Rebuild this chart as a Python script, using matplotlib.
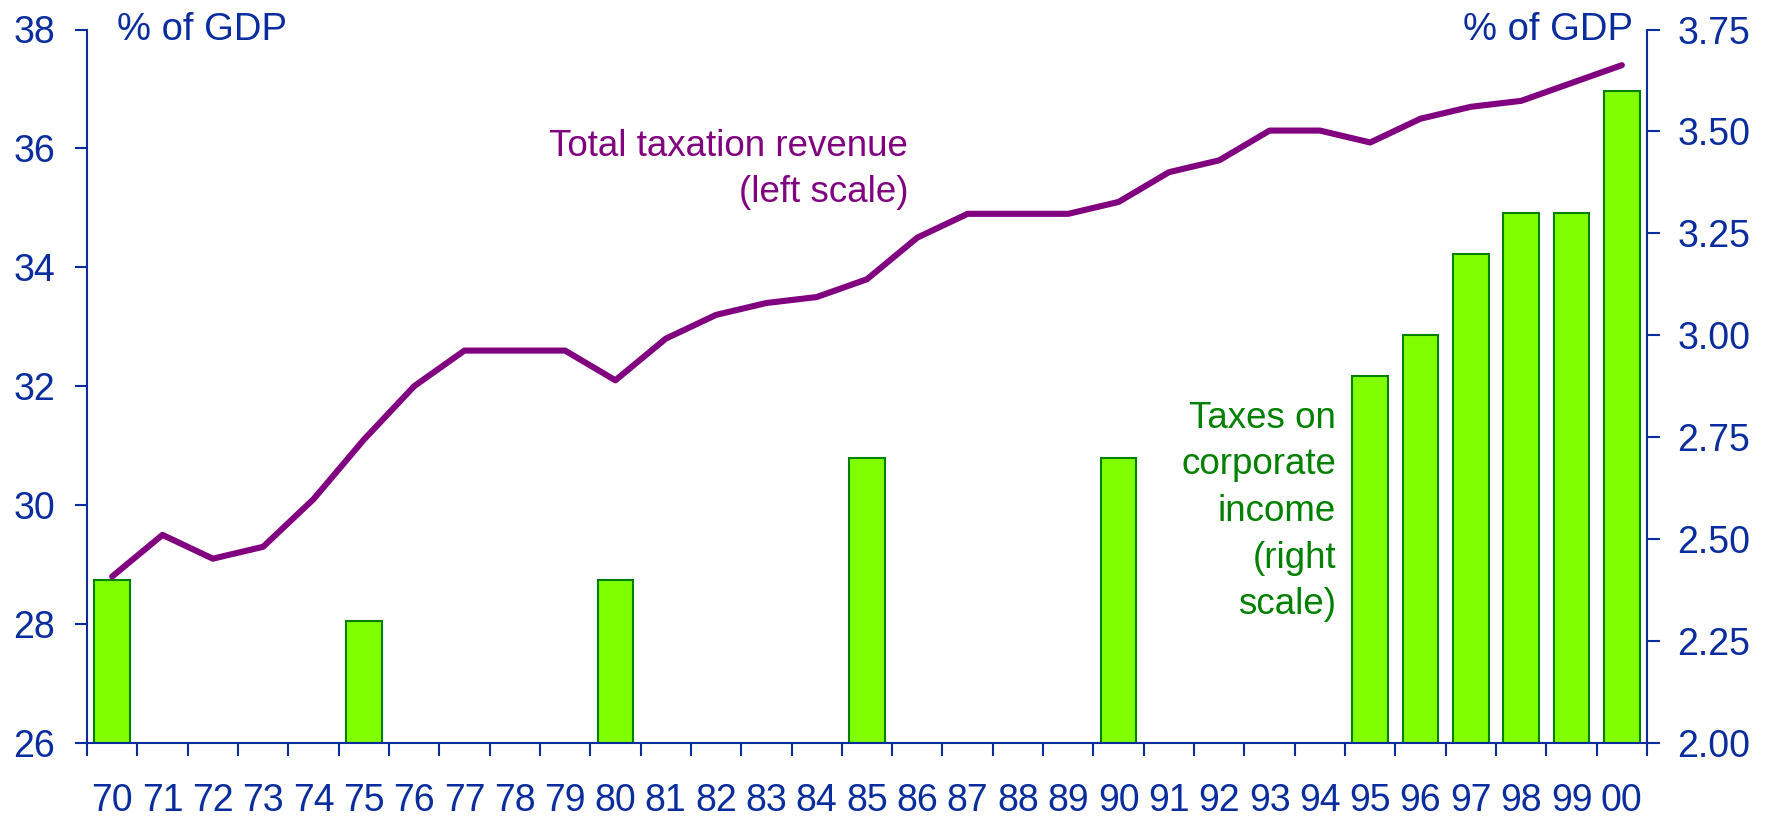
import numpy as np
import matplotlib
matplotlib.use("Agg")
import matplotlib.pyplot as plt
from matplotlib.ticker import FormatStrFormatter

plt.rcParams['font.family'] = ['Liberation Sans', 'DejaVu Sans']

years = ['70', '71', '72', '73', '74', '75', '76', '77', '78', '79',
         '80', '81', '82', '83', '84', '85', '86', '87', '88', '89',
         '90', '91', '92', '93', '94', '95', '96', '97', '98', '99', '00']
total_tax = [28.8, 29.5, 29.1, 29.3, 30.1, 31.1, 32.0, 32.6, 32.6, 32.6,
             32.1, 32.8, 33.2, 33.4, 33.5, 33.8, 34.5, 34.9, 34.9, 34.9,
             35.1, 35.6, 35.8, 36.3, 36.3, 36.1, 36.5, 36.7, 36.8, 37.1, 37.4]
corp_years = ['70', '75', '80', '85', '90', '95', '96', '97', '98', '99', '00']
corp_tax = [2.4, 2.3, 2.4, 2.7, 2.7, 2.9, 3.0, 3.2, 3.3, 3.3, 3.6]
left_ticks = [26, 28, 30, 32, 34, 36, 38]
right_ticks = [2.00, 2.25, 2.50, 2.75, 3.00, 3.25, 3.50, 3.75]

BLUE = '#0A2D9E'
PURPLE = '#800080'
GREEN_FILL = '#80FF00'
GREEN_EDGE = '#008000'

W, H, DPI = 1767, 817, 100
fig = plt.figure(figsize=(W / DPI, H / DPI), dpi=DPI)
ax = fig.add_axes([87 / W, 1 - 743 / H, (1647 - 87) / W, (743 - 29.5) / H])
ax2 = ax.twinx()

x = np.arange(len(years))
pos = {y: i for i, y in enumerate(years)}
bx = [pos[y] for y in corp_years]

ax2.bar(bx, corp_tax, width=0.71, color=GREEN_FILL, edgecolor=GREEN_EDGE,
        linewidth=1.5, zorder=2)
ax.plot(x, total_tax, color=PURPLE, linewidth=4.4, solid_capstyle='round',
        solid_joinstyle='round', zorder=3)

ax.set_zorder(ax2.get_zorder() + 1)
ax.patch.set_visible(False)

ax.set_xlim(-0.5, len(years) - 0.5)
ax.set_ylim(26, 38)
ax2.set_ylim(2.0, 3.75)

ax.set_yticks(left_ticks)
ax2.set_yticks(right_ticks)
ax2.yaxis.set_major_formatter(FormatStrFormatter('%.2f'))

ax.set_xticks(x)
ax.set_xticklabels(years)
ax.set_xticks(np.arange(-0.5, len(years), 1.0), minor=True)
ax.tick_params(axis='x', which='major', length=0, pad=29, labelsize=27,
               labelcolor=BLUE)
ax.tick_params(axis='x', which='minor', length=9, width=1.5, color=BLUE,
               direction='out')
ax.tick_params(axis='y', length=9, width=1.5, color=BLUE, labelsize=27,
               labelcolor=BLUE, pad=14, direction='out')
ax2.tick_params(axis='y', length=9, width=1.5, color=BLUE, labelsize=27,
                labelcolor=BLUE, pad=13, direction='out')

for a in (ax, ax2):
    a.spines['top'].set_visible(False)
    for s in ('left', 'right', 'bottom'):
        a.spines[s].set_color(BLUE)
        a.spines[s].set_linewidth(1.5)
ax.spines['right'].set_visible(False)
ax2.spines['left'].set_visible(False)
ax2.spines['bottom'].set_visible(False)

fig.text(117 / W, 1 - 39.5 / H, '% of GDP', color=BLUE, fontsize=27.5,
         ha='left', va='baseline')
fig.text(1633 / W, 1 - 39.5 / H, '% of GDP', color=BLUE, fontsize=27.5,
         ha='right', va='baseline')

ax.text(15.82, 35.65, 'Total taxation revenue\n(left scale)', color=PURPLE,
        fontsize=26.5, ha='right', va='center', multialignment='right',
        linespacing=1.4)
ax2.text(24.32, 2.568, 'Taxes on\ncorporate\nincome\n(right\nscale)',
         color=GREEN_EDGE, fontsize=26.5, ha='right', va='center',
         multialignment='right', linespacing=1.43)

fig.savefig('out.png', dpi=DPI)
